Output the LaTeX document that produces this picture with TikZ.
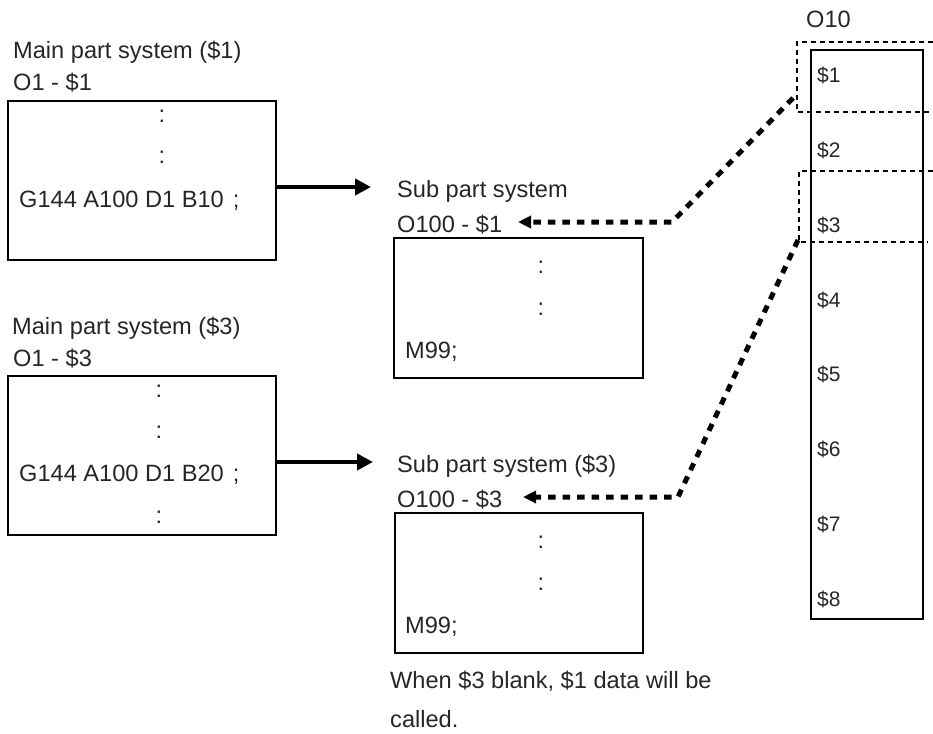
\documentclass[tikz,border=0pt]{standalone}
\usepackage{fontspec}
\setmainfont{Liberation Sans}
\usetikzlibrary{arrows.meta}
\definecolor{txt}{HTML}{262626}
\begin{document}
\begin{tikzpicture}[x=1pt,y=-1pt,
  font=\fontsize{23.6}{28}\selectfont,
  lbl/.style={anchor=base west, inner sep=0pt, text=txt},
  dotlbl/.style={anchor=base, inner sep=0pt, text=txt},
  collbl/.style={lbl, font=\fontsize{21}{24}\selectfont},
  box/.style={draw=black, line width=2pt, inner sep=0pt},
  solidarr/.style={draw=black, line width=4pt, -{Triangle[length=16pt,width=16pt]}},
  dotarr/.style={draw=black, line width=5pt, dash pattern=on 7.5pt off 7pt, -{Triangle[length=13pt,width=12pt]}},
  thindash/.style={draw=black, line width=1.2pt, dash pattern=on 5pt off 4pt}]
\useasboundingbox (0,0) rectangle (933,733);

% ---------- boxes ----------
\node[box, minimum width=268pt, minimum height=159pt] (m1) at (142,180.5) {};
\node[box, minimum width=268pt, minimum height=159pt] (m3) at (142,455.5) {};
\node[box, minimum width=249pt, minimum height=140pt] (s1) at (518.5,308) {};
\node[box, minimum width=248pt, minimum height=140pt] (s3) at (519,583) {};
\node[box, minimum width=112pt, minimum height=569pt] (col) at (867,334.5) {};

% ---------- main part system ($1) ----------
\node[lbl] (t1) at (13,59) {Main part system (\$1)};
\node[lbl] (p1) at (13,91) {O1 - \$1};
\node[dotlbl] (m1d1) at (162,122) {:};
\node[dotlbl] (m1d2) at (162,163) {:};
\node[lbl] (m1g) at (19,207) {G144 A100 D1 B10\kern9pt;};

% ---------- main part system ($3) ----------
\node[lbl] (t3) at (12,334) {Main part system (\$3)};
\node[lbl] (p3) at (13,366) {O1 - \$3};
\node[dotlbl] (m3d1) at (159,397) {:};
\node[dotlbl] (m3d2) at (159,438) {:};
\node[lbl] (m3g) at (19,481) {G144 A100 D1 B20\kern9pt;};
\node[dotlbl] (m3d3) at (159,523) {:};

% ---------- sub part systems ----------
\node[lbl] (st1) at (397,197) {Sub part system};
\node[lbl] (so1) at (397,232) {O100 - \$1};
\node[dotlbl] (s1d1) at (541,273) {:};
\node[dotlbl] (s1d2) at (541,315) {:};
\node[lbl] (s1m) at (405,358) {M99;};

\node[lbl] (st3) at (397,472) {Sub part system (\$3)};
\node[lbl] (so3) at (397,507) {O100 - \$3};
\node[dotlbl] (s3d1) at (541,548) {:};
\node[dotlbl] (s3d2) at (541,590) {:};
\node[lbl] (s3m) at (405,633) {M99;};

\node[lbl] (note1) at (390,688) {When \$3 blank, \$1 data will be};
\node[lbl] (note2) at (390,727) {called.};

% ---------- O10 column ----------
\node[lbl] (o10) at (806,28) {O10};
\node[collbl] (c1) at (817,83) {\$1};
\node[collbl] (c2) at (817,157.7) {\$2};
\node[collbl] (c3) at (817,232.4) {\$3};
\node[collbl] (c4) at (817,307.1) {\$4};
\node[collbl] (c5) at (817,381.9) {\$5};
\node[collbl] (c6) at (817,456.6) {\$6};
\node[collbl] (c7) at (817,531.3) {\$7};
\node[collbl] (c8) at (817,606) {\$8};

\draw[thindash] (933,42) -- (797,42) -- (797,112) -- (933,112);
\draw[thindash] (933,171) -- (799,171) -- (799,242) -- (928,242);

% ---------- connectors ----------
\coordinate (a1e) at (371,187);
\coordinate (a3e) at (373,462);
\draw[solidarr] (m1.east |- a1e) -- (a1e);
\draw[solidarr] (m3.east |- a3e) -- (a3e);

\coordinate (d1s) at (793,98);
\coordinate (d1b) at (672,222);
\coordinate (d1e) at (518,222);
\draw[dotarr] (d1s) -- (d1b) -- (d1e);

\coordinate (d3s) at (798,240);
\coordinate (d3b) at (678,497);
\coordinate (d3e) at (523,497);
\draw[dotarr] (d3s) -- (d3b) -- (d3e);
\end{tikzpicture}
\end{document}
